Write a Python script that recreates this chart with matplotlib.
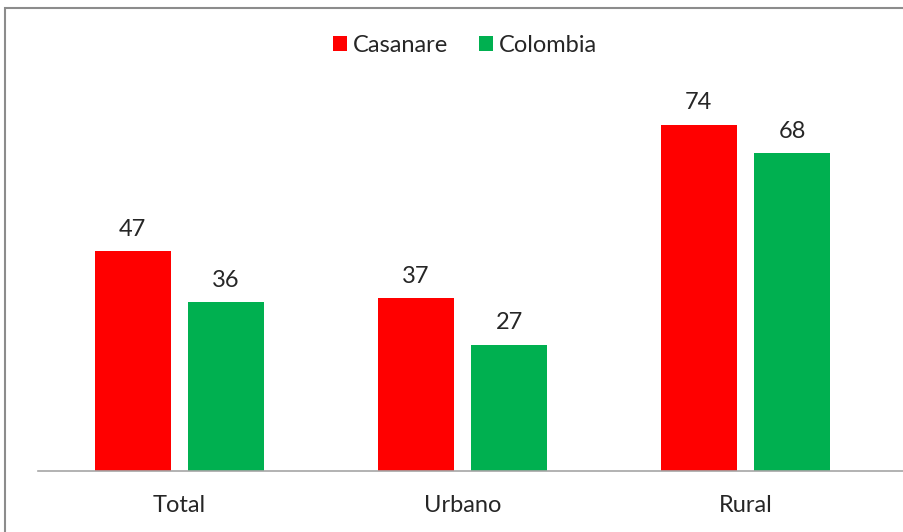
import numpy as np
import matplotlib.pyplot as plt
from matplotlib.patches import Rectangle

categorias = ["Total", "Urbano", "Rural"]
casanare = [47, 37, 74]
colombia = [36, 27, 68]

plt.rcParams['font.family'] = ['Lato', 'DejaVu Sans']

fig = plt.figure(figsize=(9.04, 5.32), dpi=100)
# marco gris del grafico
fig.patches.append(Rectangle((5 / 904, -0.1), 1.2, 1 - 8 / 532 + 0.1,
                             transform=fig.transFigure, fill=False,
                             edgecolor='#8c8c8c', linewidth=1.5))

ax = fig.add_axes([38 / 904, (532 - 471) / 532, (904 - 38) / 904, (471 - 60) / 532])
x = np.arange(len(categorias))
ancho = 0.27
b1 = ax.bar(x - 0.165, casanare, ancho, color='#ff0000', label='Casanare')
b2 = ax.bar(x + 0.165, colombia, ancho, color='#00b050', label='Colombia')

for barras in (b1, b2):
    ax.bar_label(barras, padding=8, fontsize=17, color='#262626')

ax.set_xlim(-0.5, 2.56)
ax.set_ylim(0, 87.8)
ax.set_xticks(x)
ax.set_xticklabels(categorias, fontsize=17, color='#262626')
ax.tick_params(axis='x', length=0, pad=17)
ax.set_yticks([])
for lado in ['top', 'right', 'left']:
    ax.spines[lado].set_visible(False)
ax.spines['bottom'].set_color('#a6a6a6')
ax.spines['bottom'].set_linewidth(1.2)

fig.legend(loc='center', bbox_to_anchor=(465 / 904, 1 - 45 / 532), ncol=2,
           frameon=False, fontsize=17, handlelength=0.6, handleheight=0.6,
           handletextpad=0.25, columnspacing=1.3, labelcolor='#262626')

fig.savefig('out.png', dpi=100)
